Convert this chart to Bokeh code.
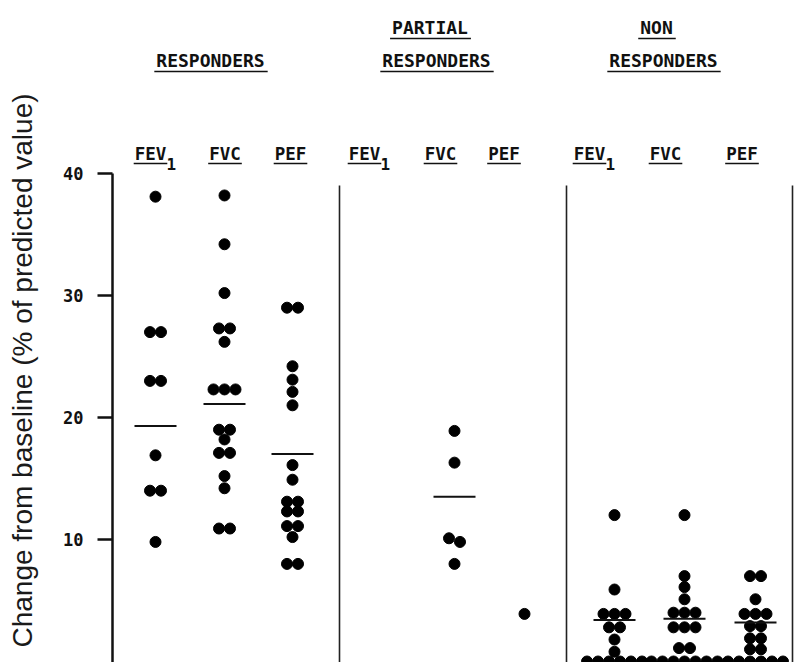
import math
from bokeh.plotting import figure
from bokeh.layouts import column
from bokeh.models import Range1d, FixedTicker, ColumnDataSource, LinearAxis
from bokeh.core.properties import value
from bokeh.embed import file_html
from bokeh.resources import INLINE

# ---------------- data ----------------
group_top = ["", "PARTIAL", "NON"]
group_bottom = ["RESPONDERS", "RESPONDERS", "RESPONDERS"]
measures = ["FEV", "FVC", "PEF"]          # FEV carries subscript "1"
measure_sub = ["1", "", ""]
y_ticks = [10, 20, 30, 40]
y_title = "Change from baseline (% of predicted value)"

resp_fev1 = [38.1, 27.0, 27.0, 23.0, 23.0, 16.9, 14.0, 14.0, 9.8]
resp_fvc = [38.2, 34.2, 30.2, 27.3, 27.3, 26.2, 22.3, 22.3, 22.3, 19.0, 19.0,
            18.2, 17.1, 17.1, 15.2, 14.2, 10.9, 10.9]
resp_pef = [29.0, 29.0, 24.2, 23.1, 22.1, 21.0, 16.1, 14.9, 13.1, 13.1, 12.3,
            12.3, 11.1, 11.1, 10.2, 8.0, 8.0]
part_fev1 = []
part_fvc = [18.9, 16.3, 10.1, 9.8, 8.0]
part_pef = [3.9]
non_fev1 = [12.0, 5.9, 3.9, 3.9, 3.9, 2.8, 2.8, 1.8, 0.8, 0, 0, 0, 0, 0, 0]
non_fvc = [12.0, 7.0, 6.1, 5.1, 4.0, 4.0, 4.0, 2.8, 2.8, 2.8, 1.1, 1.1,
           0, 0, 0, 0, 0, 0, 0]
non_pef = [7.0, 7.0, 5.1, 3.9, 3.9, 3.9, 2.9, 2.9, 1.9, 1.9, 1.0, 1.0,
           0, 0, 0, 0, 0, 0]
group_means = [19.3, 21.1, 17.0, None, 13.5, None, 3.4, 3.5, 3.2]

series = [resp_fev1, resp_fvc, resp_pef, part_fev1, part_fvc, part_pef,
          non_fev1, non_fvc, non_pef]

# ---------------- layout ----------------
W, H = 794, 662
HEAD_H = 78                 # height of the strip with the group headers
FRAME_LEFT = 112
Y0_PAGE, Y40_PAGE = 661.0, 173.0
SCALE = (Y0_PAGE - Y40_PAGE) / 40.0


def yv(page_y):
    return (Y0_PAGE - page_y) / SCALE


y_start, y_end = yv(H), yv(HEAD_H)

col_x = [155, 224, 292, 386, 454, 524, 614, 684, 755]      # dot columns (px)
head_x = [150, 224.5, 290, 364, 440, 503.5, 589, 665, 741.5]  # column header centres
group_x = [210, 436, 663]
top_x = [None, 429.5, 656]
divider_x = [339, 566, 792]

FONT = value("DejaVu Sans Mono")
CW = 0.602  # mono char width (em)

# ---------- header strip ----------
hdr = figure(width=W, height=HEAD_H, output_backend="svg", toolbar_location=None,
             x_range=Range1d(FRAME_LEFT, W), y_range=Range1d(HEAD_H, 0),
             min_border_left=FRAME_LEFT, min_border_right=0, min_border_top=0,
             min_border_bottom=0, x_axis_location=None, y_axis_location=None)
hdr.outline_line_color = None
for g in hdr.grid:
    g.visible = False

gx, gy, gt = [], [], []
ux0, ux1, uy = [], [], []
for i in range(3):
    gx.append(group_x[i]); gy.append(60); gt.append(group_bottom[i])
    w = len(group_bottom[i]) * CW * 18
    ux0.append(group_x[i] - w / 2 - 2); ux1.append(group_x[i] + w / 2 + 3); uy.append(71)
    if group_top[i]:
        gx.append(top_x[i]); gy.append(27); gt.append(group_top[i])
        w = len(group_top[i]) * CW * 18
        ux0.append(top_x[i] - w / 2 - 2); ux1.append(top_x[i] + w / 2 + 3); uy.append(38)
hdr.text(x=gx, y=gy, text=gt, text_font=FONT, text_font_style="bold",
         text_font_size="18px", text_align="center", text_baseline="middle",
         text_color="#111")
hdr.segment(x0=ux0, x1=ux1, y0=uy, y1=uy, line_width=1.6, line_color="#111")

# ---------- main plot ----------
p = figure(width=W, height=H - HEAD_H, output_backend="svg", toolbar_location=None,
           x_range=Range1d(FRAME_LEFT, W), y_range=Range1d(y_start, y_end),
           min_border_left=FRAME_LEFT, min_border_right=0, min_border_top=0,
           min_border_bottom=0, x_axis_location=None, y_axis_location=None)
p.outline_line_color = None
for g in p.grid:
    g.visible = False
p.background_fill_color = "white"
p.border_fill_color = "white"

ax = LinearAxis(ticker=FixedTicker(ticks=y_ticks), bounds=(y_start, 40),
                axis_line_width=2.5, axis_line_color="#111",
                major_tick_out=15, major_tick_in=0, major_tick_line_width=2.5,
                major_tick_line_color="#111", minor_tick_out=0, minor_tick_in=0,
                major_label_standoff=14,
                major_label_text_font="DejaVu Sans Mono",
                major_label_text_font_style="bold",
                major_label_text_font_size="17px",
                major_label_text_color="#111",
                axis_label=y_title, axis_label_standoff=22,
                axis_label_text_font="Liberation Sans",
                axis_label_text_font_style="normal",
                axis_label_text_font_size="28px",
                axis_label_text_color="#1a1a1a")
p.add_layout(ax, "left")


def swarm(vals, cx, tol=0.35, step=11.0):
    xs, ys = [], []
    clusters = []
    for v in sorted(vals, reverse=True):
        if clusters and abs(clusters[-1][0] - v) <= tol:
            clusters[-1].append(v)
        else:
            clusters.append([v])
    for c in clusters:
        n = len(c)
        for i, v in enumerate(c):
            xs.append(cx + (i - (n - 1) / 2) * step)
            ys.append(v)
    return xs, ys


dx, dy = [], []
for vals, cx in zip(series, col_x):
    xs, ys = swarm(vals, cx)
    dx += xs
    dy += ys
p.scatter(x="x", y="y", source=ColumnDataSource(dict(x=dx, y=dy)),
          size=11, fill_color="black", line_color="black")

# mean lines
mx0, mx1, my = [], [], []
for m, cx in zip(group_means, col_x):
    if m is not None:
        mx0.append(cx - 21)
        mx1.append(cx + 21)
        my.append(m)
p.segment(x0=mx0, x1=mx1, y0=my, y1=my, line_width=2, line_color="#111")

# dividers
p.segment(x0=divider_x, x1=divider_x, y0=[yv(185)] * 3, y1=[y_start] * 3,
          line_width=1.6, line_color="#222")

# column headers
hx, hy, ht = [], [], []
sx, sy, st = [], [], []
cx0, cx1, cy = [], [], []
for j, x in enumerate(head_x):
    name = measures[j % 3]
    sub = measure_sub[j % 3]
    hx.append(x); hy.append(yv(153)); ht.append(name)
    w = len(name) * CW * 17.5
    cx0.append(x - w / 2 - 1); cx1.append(x + w / 2 + 1); cy.append(yv(163))
    if sub:
        sx.append(x + w / 2 + 5); sy.append(yv(163)); st.append(sub)
p.text(x=hx, y=hy, text=ht, text_font=FONT, text_font_style="bold",
       text_font_size="17.5px", text_align="center", text_baseline="middle",
       text_color="#111")
p.text(x=sx, y=sy, text=st, text_font=FONT, text_font_style="bold",
       text_font_size="16px", text_align="center", text_baseline="middle",
       text_color="#111")
p.segment(x0=cx0, x1=cx1, y0=cy, y1=cy, line_width=1.6, line_color="#111")

layout = column(hdr, p, spacing=0)
open("out.html", "w").write(file_html(layout, INLINE))
